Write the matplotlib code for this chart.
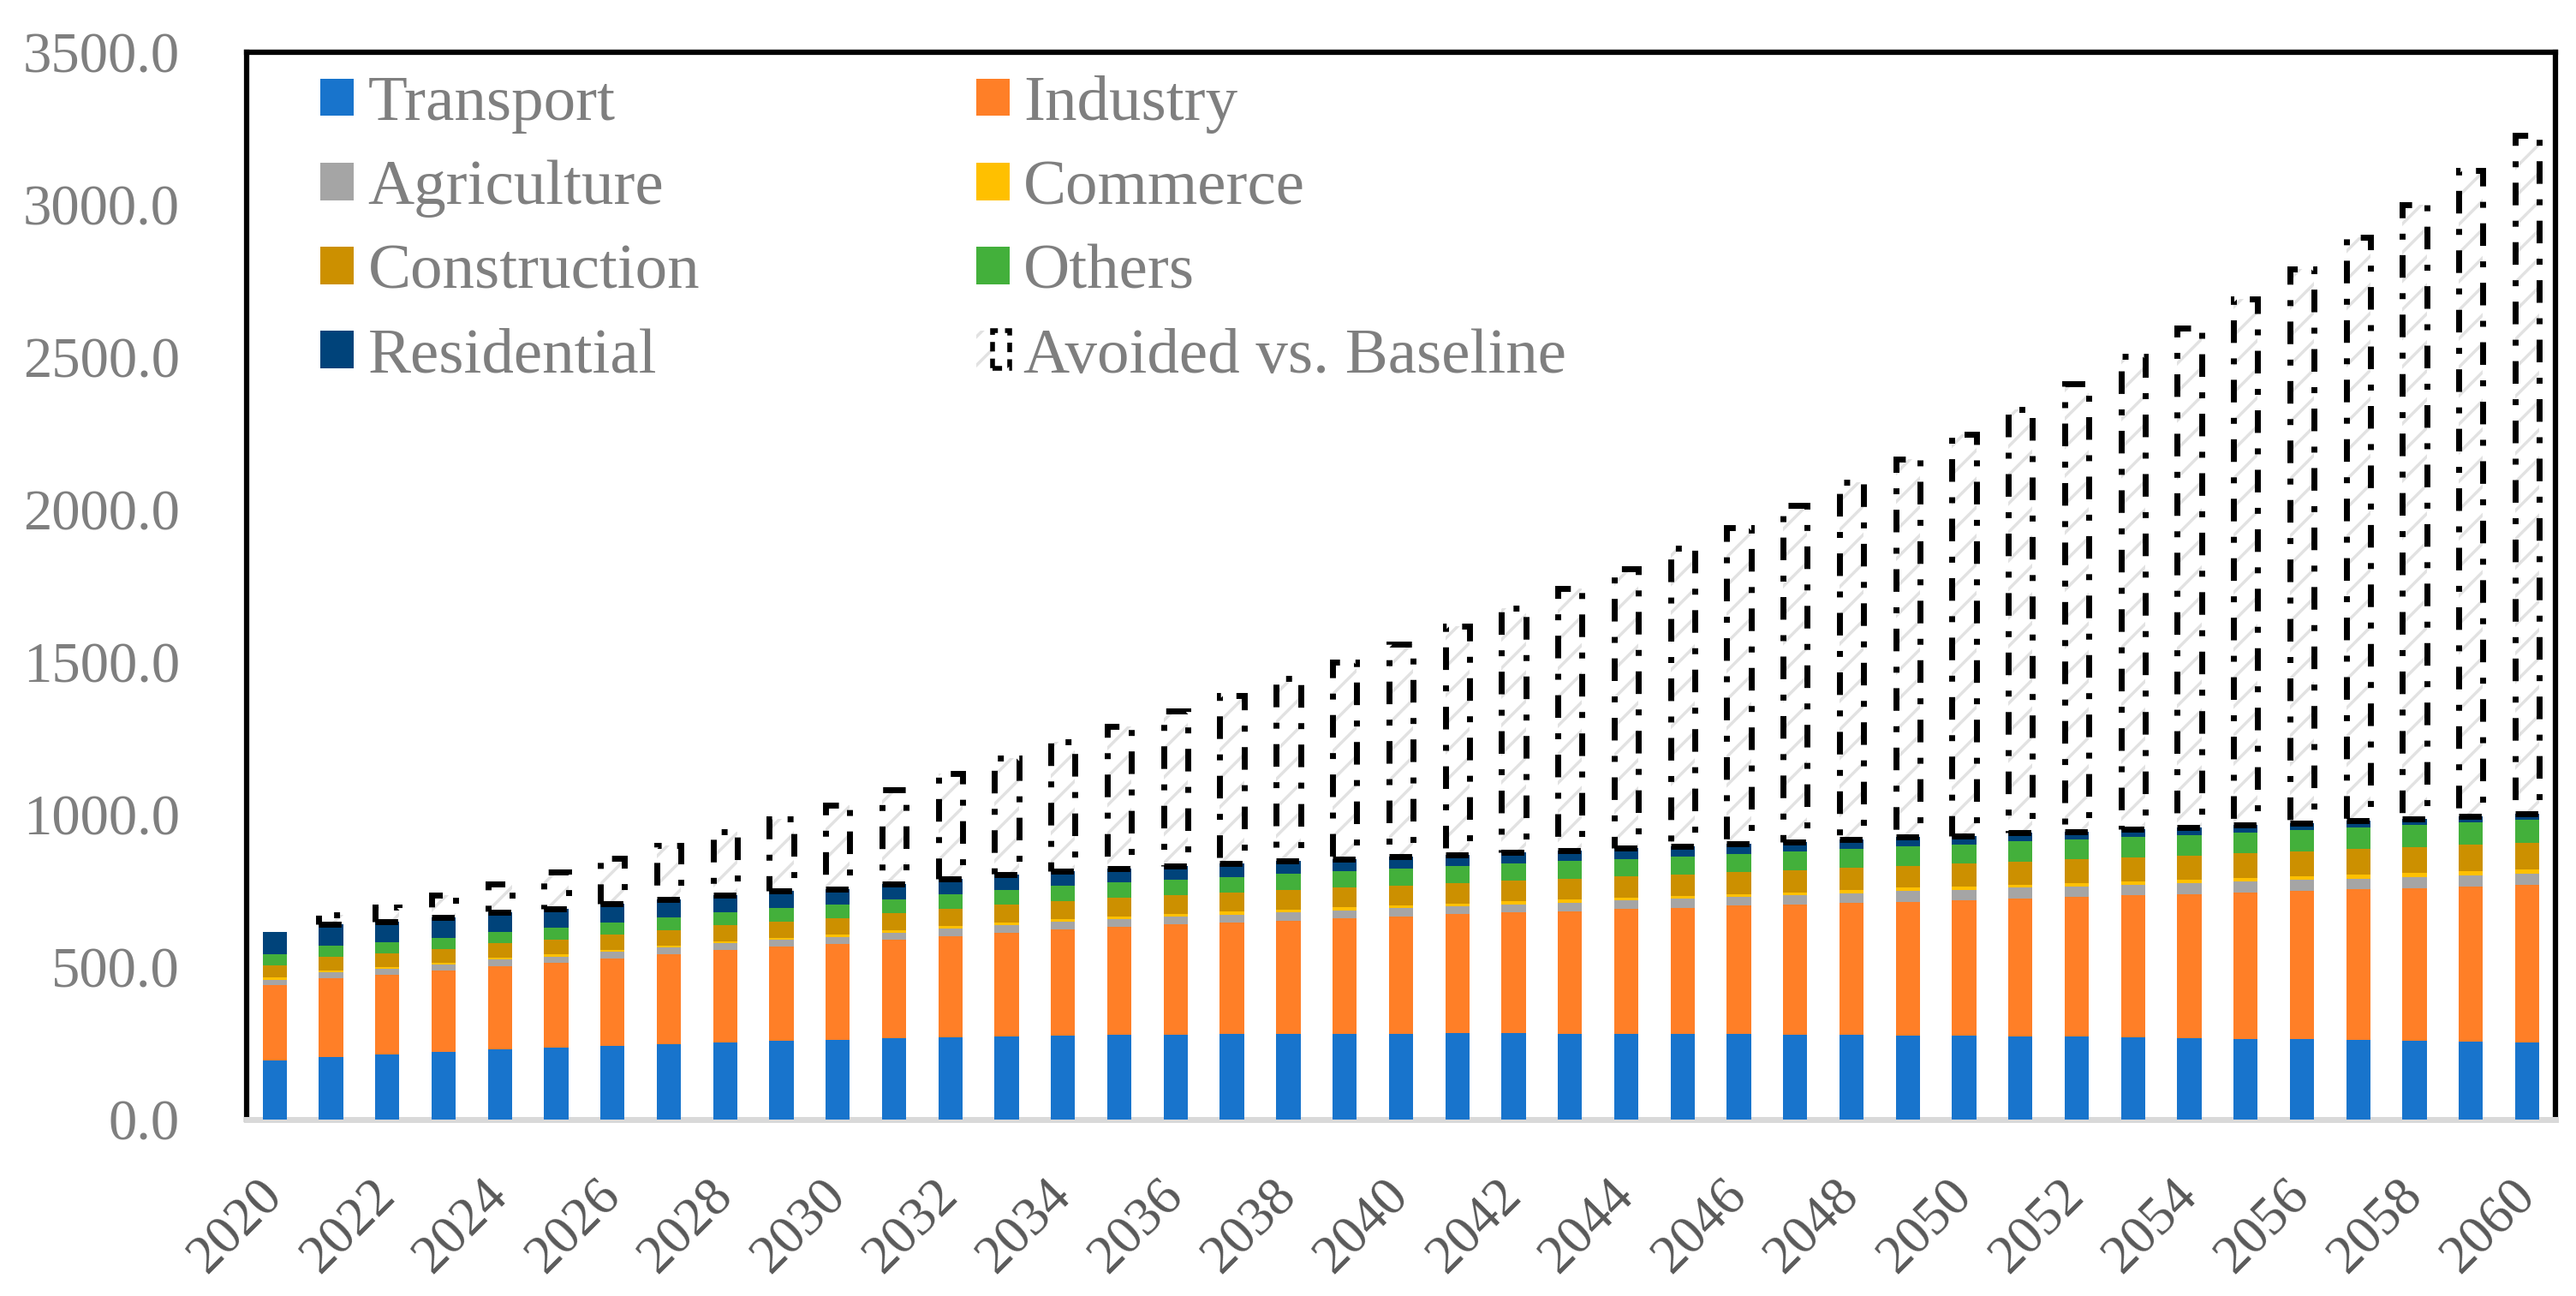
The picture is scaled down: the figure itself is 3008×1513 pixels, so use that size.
import numpy as np
import matplotlib
matplotlib.use('Agg')
import matplotlib.pyplot as plt
import matplotlib.patches as mpatches
from matplotlib.legend_handler import HandlerTuple

plt.rcParams['font.family'] = ['Liberation Serif', 'DejaVu Serif']
plt.rcParams['hatch.linewidth'] = 2.5

years = list(range(2020, 2061))

# emissions by sector
transport = [193, 204, 213, 221, 230, 235, 241, 246, 252, 258, 260, 266, 269, 272, 275, 277, 277,
             280, 280, 280, 280, 283, 283, 280, 280, 280, 280, 277, 277, 275, 275, 272, 272, 269,
             266, 263, 263, 260, 258, 255, 252]
industry = [247, 258, 260, 267, 273, 278, 287, 295, 304, 309, 315, 323, 332, 340, 349, 354, 363,
            365, 371, 379, 385, 389, 395, 403, 409, 414, 420, 428, 434, 439, 444, 453, 458, 467,
            472, 481, 486, 495, 500, 509, 517]
agriculture = [17, 20, 20, 20, 20, 20, 22, 22, 22, 22, 22, 22, 25, 25, 25, 25, 25, 25, 28, 25, 28,
               27, 27, 27, 30, 30, 30, 30, 30, 34, 34, 34, 34, 34, 37, 37, 37, 34, 37, 37, 37]
commerce = [8, 6, 6, 6, 6, 8, 6, 6, 6, 6, 8, 8, 8, 8, 8, 8, 8, 11, 8, 11, 8, 8, 11, 11, 8, 8, 8, 8,
            11, 11, 11, 11, 11, 11, 11, 11, 11, 14, 14, 14, 14]
construction = [39, 45, 45, 45, 48, 48, 51, 51, 53, 53, 53, 56, 56, 59, 59, 62, 62, 62, 65, 65, 65,
                67, 67, 67, 70, 70, 73, 73, 73, 73, 76, 76, 79, 79, 79, 82, 82, 84, 84, 87, 87]
others = [37, 37, 37, 37, 37, 39, 39, 42, 42, 45, 45, 45, 48, 48, 51, 51, 51, 51, 53, 53, 56, 56,
          56, 59, 56, 59, 59, 62, 62, 62, 62, 65, 65, 67, 67, 67, 70, 70, 73, 73, 76]
residential = [73, 70, 67, 67, 65, 62, 62, 59, 56, 56, 53, 53, 51, 51, 48, 45, 45, 45, 42, 39, 39,
               37, 37, 34, 37, 34, 34, 31, 31, 31, 28, 28, 25, 25, 25, 25, 22, 22, 20, 20, 20]
avoided = [0, 31, 48, 72, 93, 121, 148, 177, 208, 236, 274, 308, 345, 382, 424, 467, 508, 551,
           599, 647, 697, 750, 800, 860, 916, 978, 1036, 1104, 1171, 1240, 1317, 1389, 1468, 1550,
           1637, 1724, 1818, 1914, 2014, 2117, 2224]

sectors = [
    ('Transport', transport, '#1874cc'),
    ('Industry', industry, '#ff7f27'),
    ('Agriculture', agriculture, '#a5a5a5'),
    ('Commerce', commerce, '#ffc000'),
    ('Construction', construction, '#cc9000'),
    ('Others', others, '#43b03b'),
    ('Residential', residential, '#00437a'),
]

fig = plt.figure(figsize=(30.08, 15.13), dpi=100)
ax = fig.add_axes([0.0957, 0.1364, 0.8963, 0.8233])

x = np.arange(len(years))
width = 0.43
bottom = np.zeros(len(years))
handles = {}
for name, vals, color in sectors:
    bars = ax.bar(x, vals, width, bottom=bottom, color=color, linewidth=0, zorder=3, label=name)
    handles[name] = bars
    bottom += np.array(vals)

av = np.array(avoided, dtype=float)
mask = av > 0
dashdot = (0, (3.8, 2.6, 1, 2.6))
ax.bar(x[mask], av[mask], width, bottom=bottom[mask], color='white', edgecolor='#e2e2e2',
       hatch='/', linewidth=0, zorder=3)
ax.bar(x[mask], av[mask], width, bottom=bottom[mask], fill=False, edgecolor='black',
       linewidth=5, linestyle=dashdot, zorder=4)

ax.set_xlim(-0.5, len(years) - 0.5)
ax.set_ylim(0, 3500)
ax.set_yticks(np.arange(0, 3501, 500))
ax.set_yticklabels([f'{v:.1f}' for v in np.arange(0, 3501, 500)])
ax.set_xticks(x[::2])
ax.set_xticklabels([str(y) for y in years[::2]], rotation=45, ha='right', va='center',
                   rotation_mode='anchor')
ax.tick_params(axis='y', length=0, pad=56, labelsize=48, labelcolor='#7f7f7f')
ax.tick_params(axis='x', length=0, pad=57.5, labelsize=46, labelcolor='#595959')

for side in ['left', 'right', 'top']:
    ax.spines[side].set_color('black')
    ax.spines[side].set_linewidth(4.5)
ax.spines['bottom'].set_color('#d9d9d9')
ax.spines['bottom'].set_linewidth(5)

hatch_patch = mpatches.Patch(facecolor='white', edgecolor='#e2e2e2', hatch='/', linewidth=0)
edge_patch = mpatches.Patch(fill=False, edgecolor='black', linewidth=4, linestyle=(0, (2, 1.5)))
order = ['Transport', 'Agriculture', 'Construction', 'Residential', 'Industry', 'Commerce', 'Others']
leg_handles = [handles[n] for n in order] + [(hatch_patch, edge_patch)]
leg_labels = order + ['Avoided vs. Baseline']
leg = ax.legend(leg_handles, leg_labels, ncol=2, frameon=False, fontsize=54,
                loc='upper left', bbox_to_anchor=(374 / 3008, 1 - 88 / 1513),
                bbox_transform=fig.transFigure, borderaxespad=0, borderpad=0,
                handlelength=0.52, handleheight=0.52, handletextpad=0.22,
                columnspacing=4.3, labelspacing=0.41,
                handler_map={tuple: HandlerTuple(ndivide=None)})
for t in leg.get_texts():
    t.set_color('#7f7f7f')

fig.savefig('out.png', dpi=100)
